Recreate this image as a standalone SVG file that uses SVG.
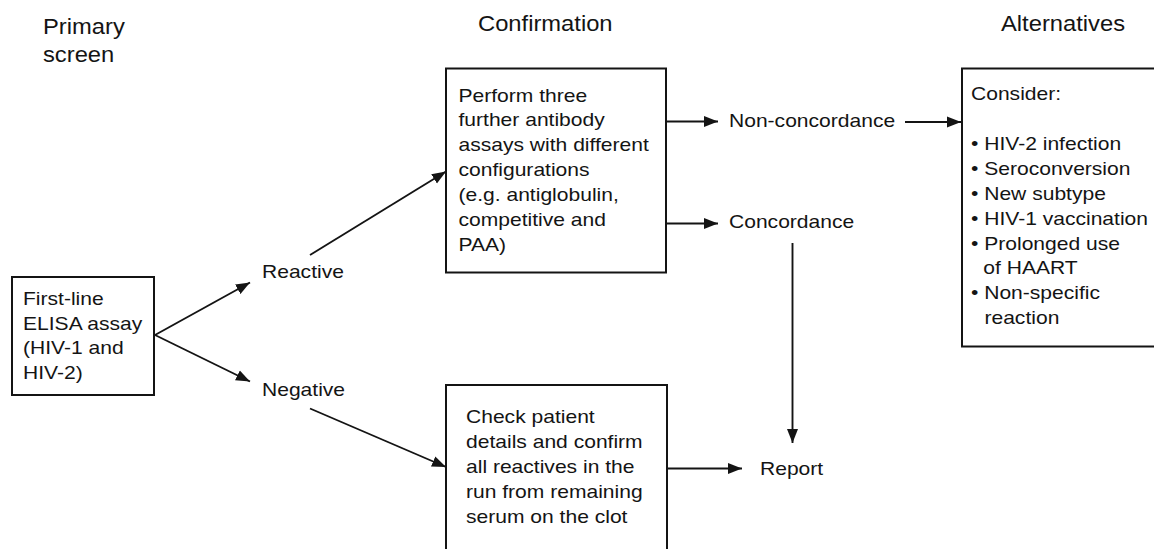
<svg xmlns="http://www.w3.org/2000/svg" width="1154" height="549" viewBox="0 0 1154 549">
<style>
text{font-family:"Liberation Sans",Arial,Helvetica,sans-serif;fill:#141414}
.h{font-size:22px}
.b{font-size:18px}
.box{fill:#fff;stroke:#141414;stroke-width:2}
.c{fill:none;stroke:#141414;stroke-width:1.9}
</style>
<defs>
<marker id="ah" markerUnits="userSpaceOnUse" markerWidth="15" markerHeight="12" refX="14" refY="6" orient="auto" viewBox="0 0 15 12">
<path d="M0,0.5 L14,6 L0,11.5 z" fill="#141414"/>
</marker>
</defs>
<rect width="1154" height="549" fill="#fff"/>
<g id="headers">
<text class="h" transform="translate(43,34) scale(1.08,1)"><tspan x="0" y="0">Primary</tspan><tspan x="0" y="28">screen</tspan></text>
<text class="h" transform="translate(478,31) scale(1.08,1)">Confirmation</text>
<text class="h" transform="translate(1001,31) scale(1.08,1)">Alternatives</text>
</g>
<g id="connectors">
<line class="c" x1="155" y1="335" x2="250" y2="282.5" marker-end="url(#ah)"/>
<line class="c" x1="155" y1="335" x2="250" y2="381.5" marker-end="url(#ah)"/>
<line class="c" x1="310" y1="255" x2="446" y2="171.5" marker-end="url(#ah)"/>
<line class="c" x1="310" y1="408.5" x2="446" y2="467" marker-end="url(#ah)"/>
<line class="c" x1="666" y1="121.5" x2="718" y2="121.5" marker-end="url(#ah)"/>
<line class="c" x1="666" y1="223.5" x2="718" y2="223.5" marker-end="url(#ah)"/>
<line class="c" x1="905" y1="122" x2="961" y2="122" marker-end="url(#ah)"/>
<line class="c" x1="792.5" y1="243" x2="792.5" y2="443" marker-end="url(#ah)"/>
<line class="c" x1="667" y1="468.5" x2="742" y2="468.5" marker-end="url(#ah)"/>
</g>
<g id="elisa">
<rect class="box" x="12" y="277" width="142" height="118"/>
<text class="b" transform="translate(23,305) scale(1.17,1)"><tspan x="0" y="0">First-line</tspan><tspan x="0" y="24.7">ELISA assay</tspan><tspan x="0" y="49.4">(HIV-1 and</tspan><tspan x="0" y="74.1">HIV-2)</tspan></text>
</g>
<g id="reactive">
<text class="b" transform="translate(262,278) scale(1.17,1)">Reactive</text>
</g>
<g id="negative">
<text class="b" transform="translate(262,396) scale(1.17,1)">Negative</text>
</g>
<g id="confirm">
<rect class="box" x="446" y="68.5" width="220" height="204"/>
<text class="b" transform="translate(458.5,101.5) scale(1.17,1)"><tspan x="0" y="0">Perform three</tspan><tspan x="0" y="25">further antibody</tspan><tspan x="0" y="50">assays with different</tspan><tspan x="0" y="75">configurations</tspan><tspan x="0" y="100">(e.g. antiglobulin,</tspan><tspan x="0" y="125">competitive and</tspan><tspan x="0" y="150">PAA)</tspan></text>
</g>
<g id="check">
<rect class="box" x="446" y="385" width="221" height="175"/>
<text class="b" transform="translate(466,423.3) scale(1.17,1)"><tspan x="0" y="0">Check patient</tspan><tspan x="0" y="25">details and confirm</tspan><tspan x="0" y="50">all reactives in the</tspan><tspan x="0" y="75">run from remaining</tspan><tspan x="0" y="100">serum on the clot</tspan></text>
</g>
<g id="nonconcordance">
<text class="b" transform="translate(729,126.5) scale(1.17,1)">Non-concordance</text>
</g>
<g id="concordance">
<text class="b" transform="translate(729,228) scale(1.17,1)">Concordance</text>
</g>
<g id="report">
<text class="b" transform="translate(760,475) scale(1.17,1)">Report</text>
</g>
<g id="alternatives">
<rect class="box" x="962" y="68.5" width="200" height="278"/>
<text class="b" transform="translate(971,99.5) scale(1.17,1)"><tspan x="0" y="0">Consider:</tspan><tspan x="0" y="51">• HIV-2 infection</tspan><tspan x="0" y="75.8">• Seroconversion</tspan><tspan x="0" y="100.6">• New subtype</tspan><tspan x="0" y="125.4">• HIV-1 vaccination</tspan><tspan x="0" y="150.2">• Prolonged use</tspan><tspan x="10.5" y="175">of HAART</tspan><tspan x="0" y="199.8">• Non-specific</tspan><tspan x="11.5" y="224.6">reaction</tspan></text>
</g>
</svg>
